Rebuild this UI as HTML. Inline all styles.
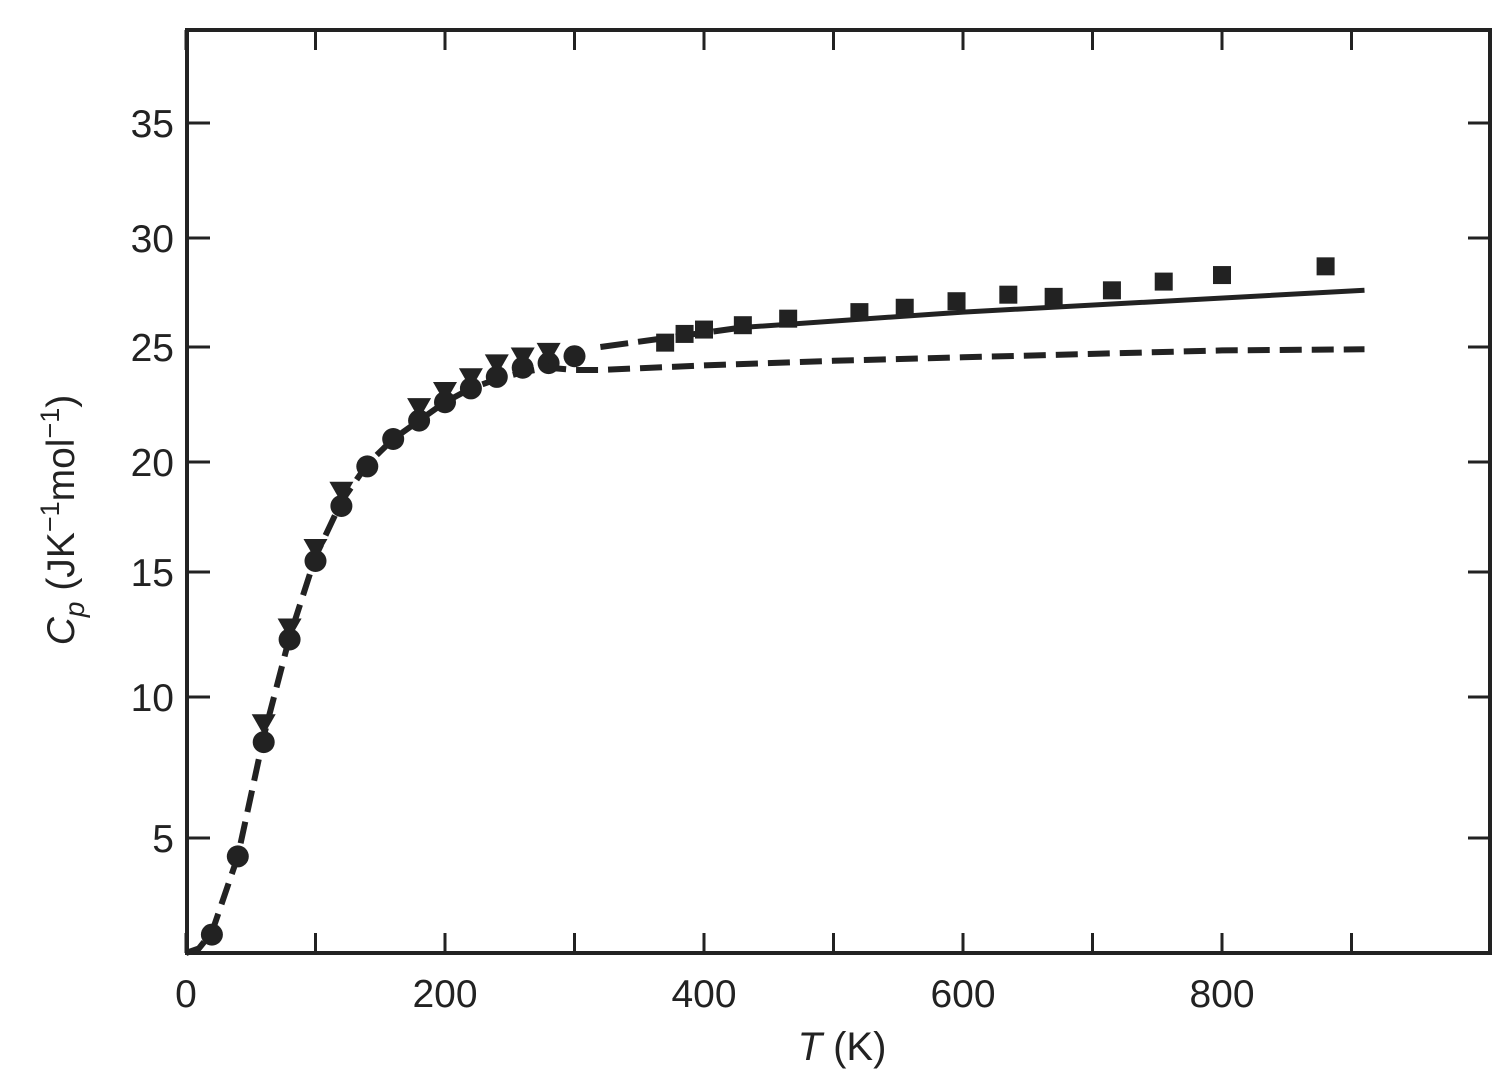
<!DOCTYPE html>
<html><head><meta charset="utf-8"><style>
body{margin:0;background:#fff;}
svg text{font-family:"Liberation Sans",sans-serif;fill:#222;}
</style></head><body>
<svg id="chart" width="1512" height="1075" viewBox="0 0 1512 1075" xmlns="http://www.w3.org/2000/svg">
<rect x="187" y="30" width="1303" height="923" fill="none" stroke="#222" stroke-width="4"/>
<g id="axes"></g><g id="series"></g>
<text x="842" y="1060" font-size="40" text-anchor="middle"><tspan font-style="italic">T</tspan> (K)</text>
<text transform="translate(74,520) rotate(-90)" font-size="39" text-anchor="middle"><tspan font-style="italic">C</tspan><tspan font-style="italic" font-size="28" dy="10">p</tspan><tspan dy="-10"> (JK</tspan><tspan font-size="27" dy="-15">−1</tspan><tspan dy="15">mol</tspan><tspan font-size="27" dy="-15">−1</tspan><tspan dy="15">)</tspan></text>
</svg>
<script>
const xTicks=[0,200,400,600,800];
const xMinor=[100,300,500,700,900];
const yTicks=[5,10,15,20,25,30,35];
const circT=[20,40,60,80,100,120,140,160,180,200,220,240,260,280,300];
const circCp=[0.8,4.2,8.4,12.3,15.5,18,19.8,21,21.8,22.6,23.2,23.7,24.1,24.3,24.6];
const triT=[60,80,100,120,180,200,220,240,260,280];
const triCp=[9,12.7,16,18.6,22.3,23,23.6,24.2,24.5,24.7];
const sqT=[370,385,400,430,465,520,555,595,635,670,715,755,800,880];
const sqCp=[25.2,25.6,25.8,26,26.3,26.6,26.8,27.1,27.4,27.3,27.6,28,28.3,28.7];
const debT=[0,10,20,40,60,80,100,120,140,160,180,200,220,240,260,280,300,320,400,500,600,700,800,910];
const debCp=[0,0.2,0.9,4.2,8.6,12.4,15.7,18.2,19.9,21,21.8,22.6,23.2,23.6,23.9,24.1,24.0,24.0,24.2,24.4,24.55,24.7,24.85,24.9];
const fitT=[320,430,600,910];
const fitCp=[25.0,25.9,26.6,27.6];
const NS="http://www.w3.org/2000/svg";
const yv=[0,5,10,15,20,25,30,35,40], yp=[953,838,697,572,462,347,238,123,8];
function X(t){return 186+t*1.295;}
function Y(v){for(let i=0;i<yv.length-1;i++){if(v<=yv[i+1]){return yp[i]+(v-yv[i])/(yv[i+1]-yv[i])*(yp[i+1]-yp[i]);}}return yp[yp.length-1];}
function mk(tag,attrs,parent){const e=document.createElementNS(NS,tag);for(const k in attrs)e.setAttribute(k,attrs[k]);parent.appendChild(e);return e;}
const ax=document.getElementById('axes'),se=document.getElementById('series');
xTicks.concat(xMinor).forEach(t=>{
  const l=mk('line',{x1:X(t),x2:X(t),y1:953,y2:933,stroke:'#222','stroke-width':3},ax);
  
  
  const l2=mk('line',{x1:X(t),x2:X(t),y1:30,y2:50,stroke:'#222','stroke-width':3},ax);
  
  
});
xTicks.forEach(t=>{
  const tx=mk('text',{x:X(t),y:1007,'font-size':39,'text-anchor':'middle'},ax);
  tx.textContent=t;
  
  
});
yTicks.forEach(v=>{
  const l=mk('line',{x1:187,x2:210,y1:Y(v),y2:Y(v),stroke:'#222','stroke-width':3},ax);
  
  
  const l2=mk('line',{x1:1468,x2:1490,y1:Y(v),y2:Y(v),stroke:'#222','stroke-width':3},ax);
  
  
  const tx=mk('text',{x:174,y:Y(v)+14,'font-size':39,'text-anchor':'end'},ax);
  tx.textContent=v;
  
  
});
function pathOf(T,C){return T.map((t,i)=>(i?'L':'M')+X(t).toFixed(1)+','+Y(C[i]).toFixed(1)).join(' ');}
const deb=mk('path',{d:pathOf(debT,debCp),fill:'none',stroke:'#222','stroke-width':6,'stroke-dasharray':'22,10'},se);


const fitD=mk('path',{d:pathOf(fitT.slice(0,2),fitCp.slice(0,2)),fill:'none',stroke:'#222','stroke-width':6,'stroke-dasharray':'28,10'},se);


const fit=mk('path',{d:pathOf(fitT.slice(1),fitCp.slice(1)),fill:'none',stroke:'#222','stroke-width':5},se);


circT.forEach((t,i)=>{
  const c=mk('circle',{cx:X(t),cy:Y(circCp[i]),r:11,fill:'#222'},se);
  
  
});
triT.forEach((t,i)=>{
  const x=X(t),y=Y(triCp[i]);
  const p=mk('polygon',{points:`${x-12},${y-11} ${x+12},${y-11} ${x},${y+10}`,fill:'#222'},se);
  
  
});
sqT.forEach((t,i)=>{
  const r=mk('rect',{x:X(t)-9,y:Y(sqCp[i])-9,width:18,height:18,fill:'#222'},se);
  
  
});
</script>
</body></html>
